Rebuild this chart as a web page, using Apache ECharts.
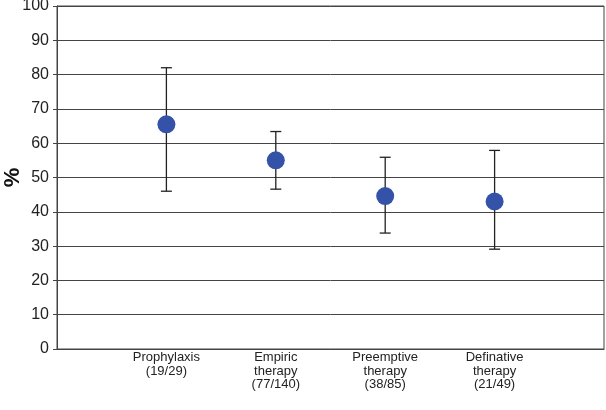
<!DOCTYPE html>
<html><head><meta charset="utf-8">
<script src="https://cdn.jsdelivr.net/npm/echarts@6/dist/echarts.min.js"></script>
<style>html,body{margin:0;padding:0;background:#fff}#c{width:606px;height:410px}</style>
</head><body><div id="c"></div>
<script>
const categories = ['Prophylaxis\n(19/29)', 'Empiric\ntherapy\n(77/140)', 'Preemptive\ntherapy\n(38/85)', 'Definative\ntherapy\n(21/49)'];
const values = [65.5, 55, 44.6, 43];
const lower = [46, 46.6, 33.8, 29.1];
const upper = [82, 63.4, 55.9, 57.9];
const yTicks = [0,10,20,30,40,50,60,70,80,90,100];

const chart = echarts.init(document.getElementById('c'), null, {renderer:'canvas'});
const font = 'Liberation Sans, Arial, sans-serif';
chart.setOption({
  animation:false,
  grid:{left:57, right:2, top:6, bottom:61, show:true, borderColor:'#444', borderWidth:1,
        containLabel:false, outerBoundsMode:'none'},
  xAxis:{type:'value', min:0, max:categories.length+1, interval:1,
    axisLine:{show:true, lineStyle:{color:'#444', width:1}},
    axisTick:{show:false}, splitLine:{show:false},
    axisLabel:{color:'#222', fontFamily:font, fontSize:13, lineHeight:13.5, margin:2,
      formatter:function(v){ const i=Math.round(v)-1; return (i>=0 && i<categories.length)?categories[i]:''; }}
  },
  yAxis:{type:'value', min:0, max:100, interval:10,
    name:'%', nameLocation:'middle', nameGap:33, nameRotate:90, nameMoveOverlap:false,
    nameTextStyle:{fontFamily:font, fontSize:22, fontWeight:'bold', color:'#111'},
    axisLine:{show:true, lineStyle:{color:'#444', width:1}},
    axisTick:{show:true, length:4, lineStyle:{color:'#444'}},
    splitLine:{show:true, lineStyle:{color:'#444', width:1}},
    axisLabel:{color:'#222', fontFamily:font, fontSize:16, margin:8}
  },
  series:[
    {type:'custom', z:2,
     data: values.map((v,i)=>[i+1, lower[i], upper[i]]),
     renderItem:function(params, api){
       const x=api.value(0);
       const lo=api.coord([x, api.value(1)]);
       const hi=api.coord([x, api.value(2)]);
       const hw=5.5;
       const st={stroke:'#222', lineWidth:1.3};
       return {type:'group', children:[
         {type:'line', shape:{x1:lo[0],y1:lo[1],x2:hi[0],y2:hi[1]}, style:st},
         {type:'line', shape:{x1:lo[0]-hw,y1:lo[1],x2:lo[0]+hw,y2:lo[1]}, style:st},
         {type:'line', shape:{x1:hi[0]-hw,y1:hi[1],x2:hi[0]+hw,y2:hi[1]}, style:st}
       ]};
     }
    },
    {type:'scatter', z:3, symbol:'circle', symbolSize:18,
     itemStyle:{color:'#3352a8', opacity:1},
     data: values.map((v,i)=>[i+1, v])
    }
  ]
});
</script></body></html>
